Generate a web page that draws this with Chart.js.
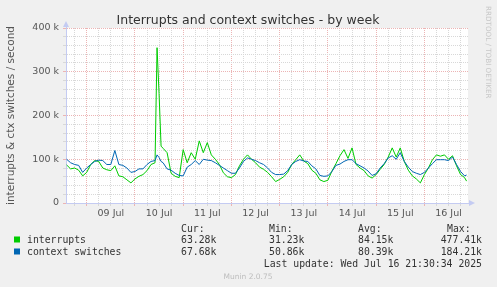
<!DOCTYPE html>
<html>
<head>
<meta charset="utf-8">
<script src="https://cdn.jsdelivr.net/npm/chart.js@4/dist/chart.umd.min.js"></script>
<style>
  html, body { margin: 0; padding: 0; background: #f0f0f0; }
</style>
</head>
<body>
<canvas id="myChart" width="497" height="287"></canvas>
<script>
// hours since 09 Jul 00:00
var hours = [-10, -8, -6, -4, -2, 0, 2, 4, 6, 8, 10, 12, 14, 16, 18, 20, 22, 24, 26, 28, 30, 32, 34, 35, 36, 37, 38,
  40, 42, 44, 46, 48, 50, 52, 54, 56, 58, 60, 62, 64, 66, 68, 70, 72, 74, 76, 78, 80, 82, 84, 86, 88, 90, 92, 94, 96, 98,
  100, 102, 104, 106, 108, 110, 112, 114, 116, 118, 120, 122, 124, 126, 128, 130, 132, 134, 136, 138, 140, 142, 144, 146, 148,
  150, 152, 154, 156, 158, 160, 162, 164, 166, 168, 170, 172, 174, 176, 178, 180, 182, 184, 186, 188, 189];

// values in thousands per second
var interrupts = [87, 78, 80, 75, 62, 70, 88, 97, 95, 80, 76, 74, 85, 62, 60, 53, 46, 55, 61, 65, 74, 88, 92, 355, 250, 130, 125,
  115, 68, 61, 58, 122, 92, 115, 100, 142, 115, 138, 110, 100, 88, 69, 60, 58, 65, 85, 100, 110, 100, 92, 82, 77, 70, 60, 49, 54, 60,
  70, 88, 99, 110, 96, 90, 75, 68, 53, 49, 52, 73, 90, 108, 122, 102, 126, 88, 80, 74, 62, 57, 65, 77, 88,
  105, 126, 105, 126, 95, 75, 62, 55, 46, 65, 80, 99, 110, 107, 110, 100, 108, 85, 65, 58, 50];

var contextSwitches = [100, 92, 88, 86, 70, 80, 88, 95, 98, 97, 88, 88, 120, 88, 86, 80, 70, 72, 78, 78, 88, 95, 97, 110, 104, 95, 92,
  78, 75, 68, 63, 62, 82, 88, 97, 88, 100, 98, 97, 92, 86, 80, 74, 68, 68, 80, 95, 103, 100, 97, 92, 88, 80, 70, 65, 65, 66,
  74, 88, 95, 99, 96, 95, 85, 78, 63, 61, 62, 72, 86, 89, 95, 99, 99, 90, 85, 80, 73, 63, 67, 80, 90,
  103, 108, 100, 115, 95, 82, 72, 68, 65, 70, 80, 90, 99, 99, 99, 97, 105, 88, 72, 62, 64];

var dayLabels = ['09 Jul', '10 Jul', '11 Jul', '12 Jul', '13 Jul', '14 Jul', '15 Jul', '16 Jul'];
var yLabels = ['0', '100 k', '200 k', '300 k', '400 k'];

var legendRows = [
  { name: 'interrupts', color: '#00cc00', cur: '63.28k', min: '31.23k', avg: '84.15k', max: '477.41k' },
  { name: 'context switches', color: '#0066b3', cur: '67.68k', min: '50.86k', avg: '80.39k', max: '184.21k' }
];

var RED = '#ecb4b4';
var GRAY = '#d8d8d8';
var AXIS = '#c4cbf2';

function mod(a, n) { return ((a % n) + n) % n; }

var muninPlugin = {
  id: 'munin',
  beforeDraw(chart) {
    var ctx = chart.ctx, a = chart.chartArea;
    ctx.save();
    ctx.fillStyle = '#f0f0f0';
    ctx.fillRect(0, 0, chart.width, chart.height);
    ctx.fillStyle = '#ffffff';
    ctx.fillRect(a.left, a.top, a.right - a.left, a.bottom - a.top);
    ctx.restore();
  },
  afterDraw(chart) {
    var ctx = chart.ctx, a = chart.chartArea;
    ctx.save();

    // axis arrows
    ctx.fillStyle = AXIS;
    ctx.beginPath();
    ctx.moveTo(a.left - 3, a.top - 1);
    ctx.lineTo(a.left + 3, a.top - 1);
    ctx.lineTo(a.left, a.top - 7);
    ctx.fill();
    ctx.beginPath();
    ctx.moveTo(a.right + 1, a.bottom - 3);
    ctx.lineTo(a.right + 1, a.bottom + 3);
    ctx.lineTo(a.right + 7, a.bottom);
    ctx.fill();
    ctx.strokeStyle = AXIS;
    ctx.beginPath();
    ctx.moveTo(a.left + 0.5, a.top);
    ctx.lineTo(a.left + 0.5, a.top - 2);
    ctx.moveTo(a.right, a.bottom + 0.5);
    ctx.lineTo(a.right + 2, a.bottom + 0.5);
    ctx.stroke();

    // title
    ctx.fillStyle = '#333';
    ctx.font = '12.5px "DejaVu Sans"';
    ctx.textAlign = 'center';
    ctx.textBaseline = 'alphabetic';
    ctx.fillText('Interrupts and context switches - by week', 248, 24);

    // watermark
    ctx.save();
    ctx.translate(488, 6);
    ctx.rotate(Math.PI / 2);
    ctx.fillStyle = '#c8c8c8';
    ctx.font = '7.2px "DejaVu Sans"';
    ctx.textAlign = 'left';
    ctx.textBaseline = 'middle';
    ctx.fillText('RRDTOOL / TOBI OETIKER', 0, 0);
    ctx.restore();

    // legend
    ctx.font = '9.8px "DejaVu Sans Mono"';
    ctx.fillStyle = '#333';
    ctx.textAlign = 'left';
    ctx.fillText('Cur:', 181, 232);
    ctx.fillText('Min:', 269, 232);
    ctx.fillText('Avg:', 358, 232);
    ctx.fillText('Max:', 447, 232);
    legendRows.forEach(function (r, i) {
      var y = 243 + i * 12;
      ctx.fillStyle = r.color;
      ctx.fillRect(14, y - 6.5, 6, 6);
      ctx.fillStyle = '#333';
      ctx.textAlign = 'left';
      ctx.fillText(r.name, 27, y);
      ctx.fillText(r.cur, 181, y);
      ctx.fillText(r.min, 269, y);
      ctx.fillText(r.avg, 358, y);
      ctx.textAlign = 'right';
      ctx.fillText(r.max, 482, y);
    });
    ctx.textAlign = 'right';
    ctx.fillText('Last update: Wed Jul 16 21:30:34 2025', 482, 267);

    ctx.fillStyle = '#bdbdbd';
    ctx.font = '7.5px "DejaVu Sans"';
    ctx.textAlign = 'center';
    ctx.fillText('Munin 2.0.75', 248, 279);
    ctx.restore();
  }
};

var ctx = document.getElementById('myChart').getContext('2d');
var chart = new Chart(ctx, {
  type: 'line',
  data: {
    labels: hours,
    datasets: [{
      label: 'interrupts',
      data: hours.map((h, i) => ({ x: h, y: interrupts[i] })),
      borderColor: '#00cc00',
      borderWidth: 1,
      pointRadius: 0,
      tension: 0,
      order: 2
    }, {
      label: 'context switches',
      data: hours.map((h, i) => ({ x: h, y: contextSwitches[i] })),
      borderColor: '#0066b3',
      borderWidth: 1,
      pointRadius: 0,
      tension: 0,
      order: 1
    }]
  },
  options: {
    responsive: false,
    animation: false,
    devicePixelRatio: 1,
    layout: { padding: { left: 0, right: 29, top: 28, bottom: 64 } },
    plugins: { legend: { display: false }, tooltip: { enabled: false } },
    scales: {
      x: {
        type: 'linear',
        min: -10.3,
        max: 189.7,
        afterFit(s) { s.height = 20; },
        ticks: {
          stepSize: 6,
          includeBounds: false,
          autoSkip: false,
          maxRotation: 0,
          padding: 2,
          color: '#555',
          font: { family: 'DejaVu Sans', size: 9.5 },
          callback(v) { return mod(v, 24) === 12 ? dayLabels[(v - 12) / 24] : ''; }
        },
        grid: {
          color: c => mod(c.tick.value, 24) === 0 ? RED : GRAY,
          tickColor: c => mod(c.tick.value, 24) === 0 ? RED : GRAY,
          tickLength: 3,
          lineWidth: 1
        },
        border: { color: AXIS, dash: [1, 1] }
      },
      y: {
        min: 0,
        max: 400,
        afterFit(s) { s.width = 66; },
        ticks: {
          stepSize: 20,
          autoSkip: false,
          padding: 4,
          color: '#555',
          font: { family: 'DejaVu Sans', size: 9.5 },
          callback(v) { return v % 100 === 0 ? yLabels[v / 100] : ''; }
        },
        grid: {
          color: c => c.tick.value % 100 === 0 ? RED : GRAY,
          tickColor: c => c.tick.value % 100 === 0 ? RED : GRAY,
          tickLength: 3,
          lineWidth: 1
        },
        border: { color: AXIS, dash: [1, 1] },
        title: {
          display: true,
          text: 'interrupts & ctx switches / second',
          color: '#555',
          font: { family: 'DejaVu Sans', size: 10.5 },
          padding: { top: 5, bottom: 0 }
        }
      }
    }
  },
  plugins: [muninPlugin]
});
</script>
</body>
</html>
